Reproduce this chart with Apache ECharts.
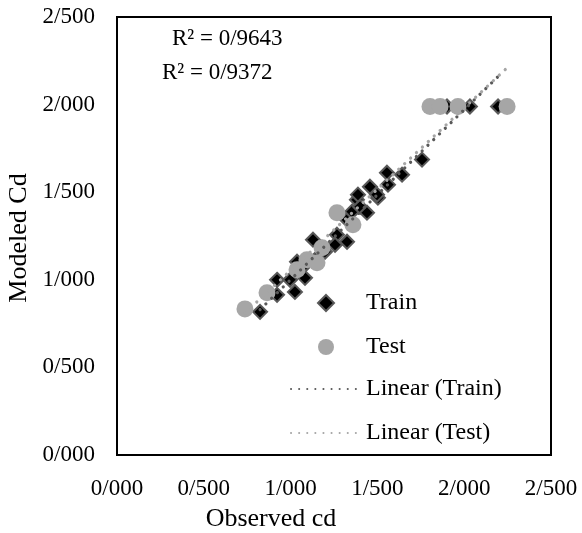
<!DOCTYPE html>
<html>
<head>
<meta charset="utf-8">
<script src="https://cdn.jsdelivr.net/npm/echarts@6/dist/echarts.min.js"></script>
<style>
html,body{margin:0;padding:0;background:#fff;}
#main{width:582px;height:533px;}
</style>
</head>
<body>
<div id="main"></div>
<script>
// Observed / modeled values
var trainX = [0.824,0.922,0.922,1.025,0.997,1.083,1.037,1.066,1.129,1.158,1.198,1.267,1.256,1.325,1.325,1.354,1.382,1.400,1.440,1.457,1.503,1.561,1.388,1.498,1.555,1.642,1.757,1.901,2.033,2.195];
var trainY = [0.817,0.914,1.000,0.931,1.000,1.011,1.103,1.069,1.229,1.131,1.160,1.257,1.200,1.217,1.343,1.389,1.457,1.417,1.383,1.531,1.469,1.543,1.486,1.486,1.611,1.600,1.686,1.989,1.989,1.989];
var testX = [0.737,0.864,1.037,1.094,1.152,1.181,1.267,1.359,1.803,1.861,1.964,2.247];
var testY = [0.834,0.926,1.057,1.114,1.097,1.183,1.383,1.314,1.989,1.989,1.989,1.989];
// Trend line end points
var trainTrendX = [0.824, 2.195];
var trainTrendY = [0.83, 2.16];
var testTrendX = [0.737, 2.247];
var testTrendY = [0.81, 2.21];
var tickValues = [0, 0.5, 1, 1.5, 2, 2.5];
var r2Labels = ['R\u00b2 = 0/9643', 'R\u00b2 = 0/9372'];
var seriesNames = ['Train', 'Test', 'Linear (Train)', 'Linear (Test)'];

function zip(a, b) { return a.map(function (v, i) { return [v, b[i]]; }); }
function fmt(v) { return v.toFixed(3).replace('.', '/'); }

var FONT = 'Liberation Serif';
var chart = echarts.init(document.getElementById('main'), null, {renderer: 'canvas'});
var dotted = [0.1, 8];
var legendText = {fontFamily: FONT, fontSize: 24, color: '#000', lineHeight: 23};

chart.setOption({
  animation: false,
  backgroundColor: '#fff',
  grid: {left: 117, right: 31, top: 17, bottom: 78, show: true, borderColor: '#000', borderWidth: 2, backgroundColor: 'transparent'},
  xAxis: {
    type: 'value', min: 0, max: 2.5, interval: 0.5,
    axisLine: {show: true, onZero: false, lineStyle: {color: '#000', width: 2}},
    axisTick: {show: false},
    splitLine: {show: false},
    axisLabel: {formatter: fmt, fontFamily: FONT, fontSize: 23, color: '#000', margin: 22}
  },
  yAxis: {
    type: 'value', min: 0, max: 2.5, interval: 0.5,
    axisLine: {show: true, onZero: false, lineStyle: {color: '#000', width: 2}},
    axisTick: {show: false},
    splitLine: {show: false},
    axisLabel: {formatter: fmt, fontFamily: FONT, fontSize: 23, color: '#000', margin: 22}
  },
  legend: [
    {
      orient: 'vertical', left: 317, top: 291, padding: 0,
      itemWidth: 16, itemHeight: 16, itemGap: 20,
      data: [seriesNames[0], seriesNames[1]],
      textStyle: Object.assign({padding: [0, 0, 0, 27]}, legendText)
    },
    {
      orient: 'vertical', left: 290, top: 377, padding: 0,
      itemWidth: 70, itemHeight: 16, itemGap: 20,
      data: [
        {name: seriesNames[2], itemStyle: {opacity: 0}},
        {name: seriesNames[3], itemStyle: {opacity: 0}}
      ],
      textStyle: legendText
    }
  ],
  graphic: [
    {type: 'text', left: 172, top: 27, style: {text: r2Labels[0], font: '23px "Liberation Serif"', fill: '#000'}},
    {type: 'text', left: 162, top: 61, style: {text: r2Labels[1], font: '23px "Liberation Serif"', fill: '#000'}},
    {type: 'text', x: 271, y: 519, style: {text: 'Observed cd', font: '26px "Liberation Serif"', fill: '#000', align: 'center', verticalAlign: 'middle'}},
    {type: 'text', x: 19, y: 238, rotation: Math.PI / 2, style: {text: 'Modeled Cd', font: '26px "Liberation Serif"', fill: '#000', align: 'center', verticalAlign: 'middle'}}
  ],
  series: [
    {
      name: seriesNames[0], type: 'scatter', symbol: 'diamond', symbolSize: 14, z: 2,
      itemStyle: {color: '#000', borderColor: '#595959', borderWidth: 2, opacity: 1},
      data: zip(trainX, trainY)
    },
    {
      name: seriesNames[1], type: 'scatter', symbol: 'circle', symbolSize: 17, z: 3,
      itemStyle: {color: '#a6a6a6', opacity: 1},
      data: zip(testX, testY)
    },
    {
      name: seriesNames[2], type: 'line', showSymbol: false, symbol: 'none', z: 4,
      lineStyle: {color: '#595959', width: 3.2, type: dotted, cap: 'round'},
      itemStyle: {color: '#595959'},
      data: zip(trainTrendX, trainTrendY)
    },
    {
      name: seriesNames[3], type: 'line', showSymbol: false, symbol: 'none', z: 5,
      lineStyle: {color: '#a6a6a6', width: 3.2, type: dotted, cap: 'round'},
      itemStyle: {color: '#a6a6a6'},
      data: zip(testTrendX, testTrendY)
    }
  ]
});
</script>
</body>
</html>
